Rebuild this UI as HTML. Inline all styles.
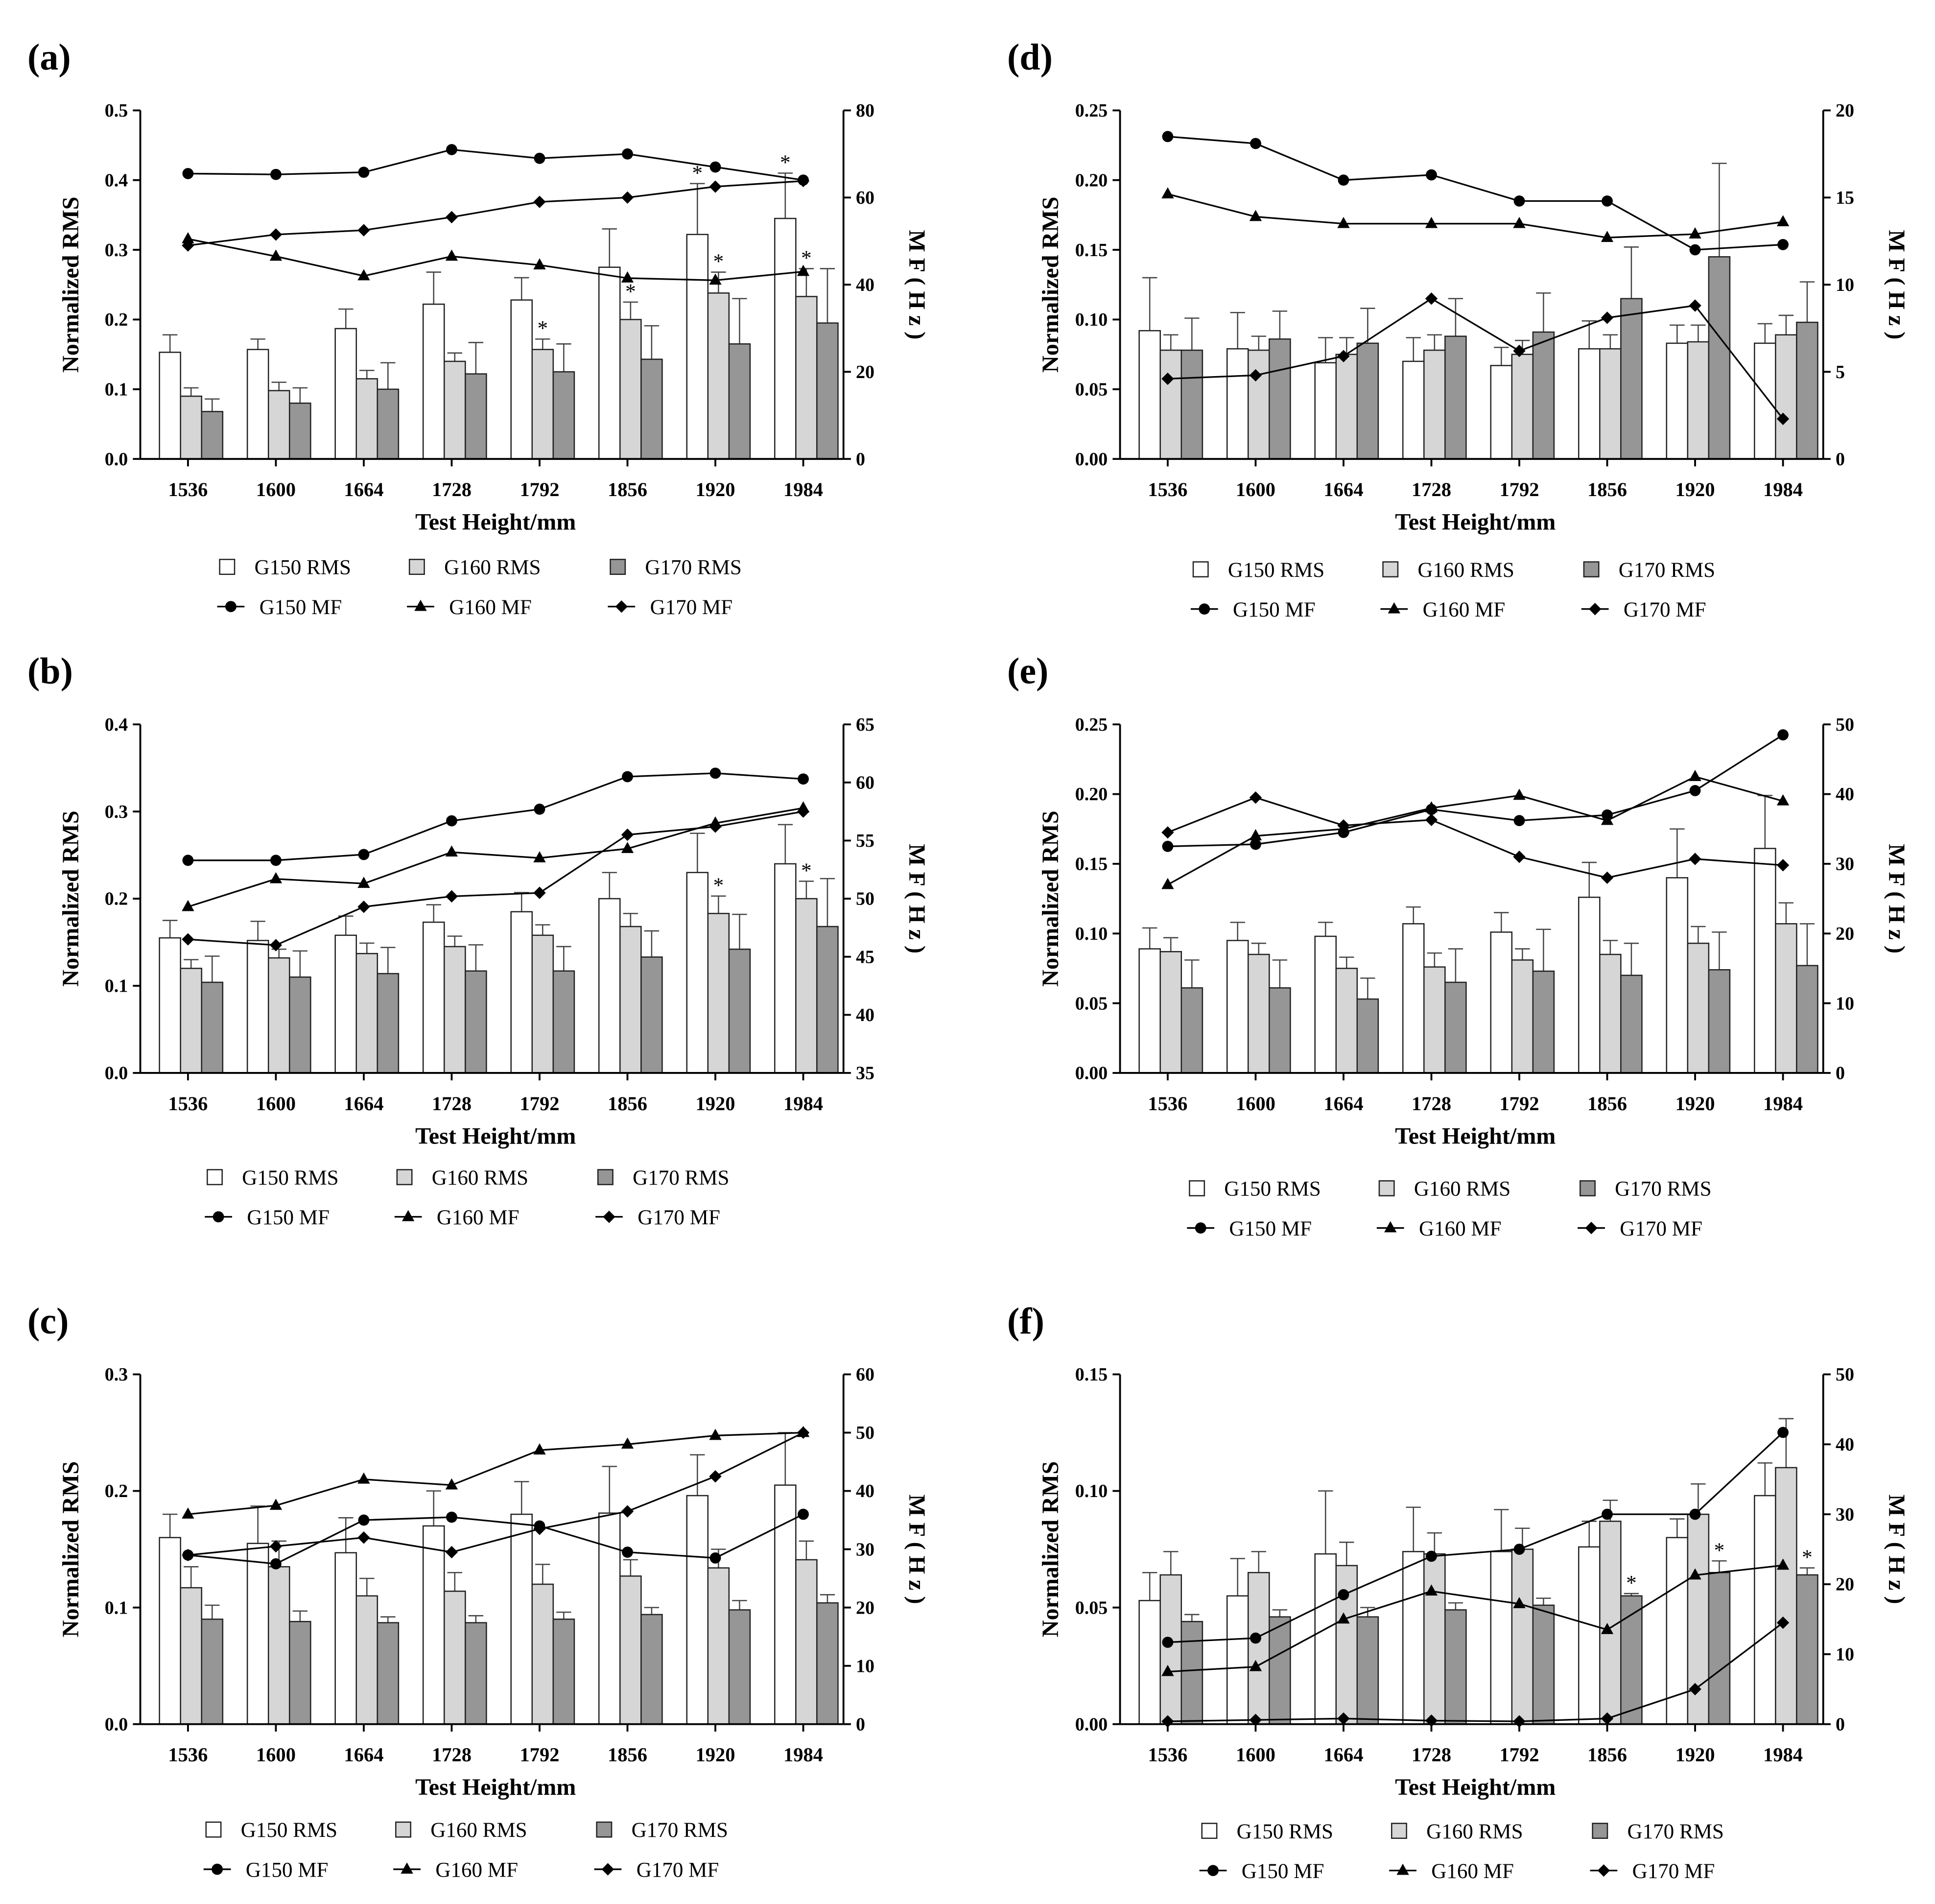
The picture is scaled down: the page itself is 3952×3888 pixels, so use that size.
<!DOCTYPE html>
<html><head><meta charset="utf-8"><style>
html,body{margin:0;padding:0;background:#fff;}
svg{display:block;font-family:"Liberation Serif",serif;}
</style></head><body>
<svg id="fig" width="3952" height="3888" viewBox="0 0 1560 1535" xmlns="http://www.w3.org/2000/svg"></svg>
<script>
const categories = ["1536","1600","1664","1728","1792","1856","1920","1984"];
// (a)
const aG150RMS=[.153,.157,.187,.222,.228,.275,.322,.345], aG150Err=[.025,.015,.028,.046,.032,.055,.073,.065];
const aG160RMS=[.09,.098,.115,.14,.157,.2,.238,.233], aG160Err=[.012,.012,.012,.012,.015,.025,.03,.04];
const aG170RMS=[.068,.08,.1,.122,.125,.143,.165,.195], aG170Err=[.018,.022,.038,.045,.04,.048,.065,.078];
const aG150MF=[65.5,65.3,65.8,71,69,70,67,64], aG160MF=[50.5,46.5,42,46.5,44.5,41.5,41,43], aG170MF=[49,51.5,52.5,55.5,59,60,62.5,63.8];
// (b)
const bG150RMS=[.155,.152,.158,.173,.185,.2,.23,.24], bG150Err=[.02,.022,.022,.02,.022,.03,.045,.045];
const bG160RMS=[.12,.132,.137,.145,.158,.168,.183,.2], bG160Err=[.01,.01,.012,.012,.012,.015,.02,.02];
const bG170RMS=[.104,.11,.114,.117,.117,.133,.142,.168], bG170Err=[.03,.03,.03,.03,.028,.03,.04,.055];
const bG150MF=[53.3,53.3,53.8,56.7,57.7,60.5,60.8,60.3], bG160MF=[49.3,51.7,51.3,54,53.5,54.3,56.5,57.8], bG170MF=[46.5,46,49.3,50.2,50.5,55.5,56.2,57.5];
// (c)
const cG150RMS=[.16,.155,.147,.17,.18,.181,.196,.205], cG150Err=[.02,.032,.03,.03,.028,.04,.035,.045];
const cG160RMS=[.117,.135,.11,.114,.12,.127,.134,.141], cG160Err=[.018,.022,.015,.016,.017,.014,.016,.016];
const cG170RMS=[.09,.088,.087,.087,.09,.094,.098,.104], cG170Err=[.012,.009,.005,.006,.006,.006,.008,.007];
const cG150MF=[29,27.5,35,35.5,34,29.5,28.5,36], cG160MF=[36,37.5,42,41,47,48,49.5,50], cG170MF=[29,30.5,32,29.5,33.5,36.5,42.5,50];
// (d)
const dG150RMS=[.092,.079,.069,.07,.067,.079,.083,.083], dG150Err=[.038,.026,.018,.017,.013,.02,.013,.014];
const dG160RMS=[.078,.078,.075,.078,.075,.079,.084,.089], dG160Err=[.011,.01,.012,.011,.01,.01,.012,.014];
const dG170RMS=[.078,.086,.083,.088,.091,.115,.145,.098], dG170Err=[.023,.02,.025,.027,.028,.037,.067,.029];
const dG150MF=[18.5,18.1,16,16.3,14.8,14.8,12,12.3], dG160MF=[15.2,13.9,13.5,13.5,13.5,12.7,12.9,13.6], dG170MF=[4.6,4.8,5.9,9.2,6.2,8.1,8.8,2.3];
// (e)
const eG150RMS=[.089,.095,.098,.107,.101,.126,.14,.161], eG150Err=[.015,.013,.01,.012,.014,.025,.035,.038];
const eG160RMS=[.087,.085,.075,.076,.081,.085,.093,.107], eG160Err=[.01,.008,.008,.01,.008,.01,.012,.015];
const eG170RMS=[.061,.061,.053,.065,.073,.07,.074,.077], eG170Err=[.02,.02,.015,.024,.03,.023,.027,.03];
const eG150MF=[32.5,32.8,34.5,37.8,36.2,37,40.5,48.5], eG160MF=[27,34,35,38,39.8,36.2,42.5,39], eG170MF=[34.5,39.5,35.5,36.3,31,28,30.7,29.8];
// (f)
const fG150RMS=[.053,.055,.073,.074,.074,.076,.08,.098], fG150Err=[.012,.016,.027,.019,.018,.011,.008,.014];
const fG160RMS=[.064,.065,.068,.073,.075,.087,.09,.11], fG160Err=[.01,.009,.01,.009,.009,.009,.013,.021];
const fG170RMS=[.044,.046,.046,.049,.051,.055,.065,.064], fG170Err=[.003,.003,.004,.003,.003,.001,.005,.003];
const fG150MF=[11.7,12.3,18.5,24,25,30,30,41.7], fG160MF=[7.5,8.2,15,19,17.2,13.5,21.3,22.7], fG170MF=[0.4,0.6,0.8,0.5,0.4,0.8,5,14.5];
// tick labels
const aLeftTicks=["0.0","0.1","0.2","0.3","0.4","0.5"], aRightTicks=["0","20","40","60","80"];
const bLeftTicks=["0.0","0.1","0.2","0.3","0.4"], bRightTicks=["35","40","45","50","55","60","65"];
const cLeftTicks=["0.0","0.1","0.2","0.3"], cRightTicks=["0","10","20","30","40","50","60"];
const dLeftTicks=["0.00","0.05","0.10","0.15","0.20","0.25"], dRightTicks=["0","5","10","15","20"];
const eLeftTicks=["0.00","0.05","0.10","0.15","0.20","0.25"], eRightTicks=["0","10","20","30","40","50"];
const fLeftTicks=["0.00","0.05","0.10","0.15"], fRightTicks=["0","10","20","30","40","50"];
// significance markers [series index, category index]
const aStars=[[1,4],[1,5],[1,6],[1,7],[0,6],[0,7]];
const bStars=[[1,6],[1,7]];
const fStars=[[2,5],[2,6],[2,7]];

const NS="http://www.w3.org/2000/svg";
const svg=document.getElementById('fig');
function el(tag,attrs,parent,text){const e=document.createElementNS(NS,tag);for(const k in attrs)e.setAttribute(k,attrs[k]);if(text!==undefined)e.textContent=text;(parent||svg).appendChild(e);return e;}

const panels=[
 {id:'a',x0:113,x1:680,yT:89,yB:370,rms:[aG150RMS,aG160RMS,aG170RMS],err:[aG150Err,aG160Err,aG170Err],mf:[aG150MF,aG160MF,aG170MF],lt:aLeftTicks,rt:aRightTicks,stars:aStars,lx:183,ly:457},
 {id:'b',x0:113,x1:680,yT:584,yB:865,rms:[bG150RMS,bG160RMS,bG170RMS],err:[bG150Err,bG160Err,bG170Err],mf:[bG150MF,bG160MF,bG170MF],lt:bLeftTicks,rt:bRightTicks,stars:bStars,lx:173,ly:949},
 {id:'c',x0:113,x1:680,yT:1108,yB:1390,rms:[cG150RMS,cG160RMS,cG170RMS],err:[cG150Err,cG160Err,cG170Err],mf:[cG150MF,cG160MF,cG170MF],lt:cLeftTicks,rt:cRightTicks,stars:[],lx:172,ly:1475},
 {id:'d',x0:903,x1:1470,yT:89,yB:370,rms:[dG150RMS,dG160RMS,dG170RMS],err:[dG150Err,dG160Err,dG170Err],mf:[dG150MF,dG160MF,dG170MF],lt:dLeftTicks,rt:dRightTicks,stars:[],lx:968,ly:459},
 {id:'e',x0:903,x1:1470,yT:584,yB:865,rms:[eG150RMS,eG160RMS,eG170RMS],err:[eG150Err,eG160Err,eG170Err],mf:[eG150MF,eG160MF,eG170MF],lt:eLeftTicks,rt:eRightTicks,stars:[],lx:965,ly:958},
 {id:'f',x0:903,x1:1470,yT:1108,yB:1390,rms:[fG150RMS,fG160RMS,fG170RMS],err:[fG150Err,fG160Err,fG170Err],mf:[fG150MF,fG160MF,fG170MF],lt:fLeftTicks,rt:fRightTicks,stars:fStars,lx:975,ly:1476}
];
const fills=['#ffffff','#d6d6d6','#969696'];
const names=['g150','g160','g170'];

function marker(g,type,x,y){
 let m;
 if(type===0)m=el('circle',{cx:x,cy:y,r:4.5,fill:'#000'},g);
 else if(type===1)m=el('polygon',{points:`${x},${y-5.5} ${x+5},${y+3.5} ${x-5},${y+3.5}`,fill:'#000'},g);
 else m=el('polygon',{points:`${x},${y-5} ${x+5},${y} ${x},${y+5} ${x-5},${y}`,fill:'#000'},g);
 return m;
}

panels.forEach(p=>{
 const g=el('g',{},svg);
 
 
 const lmin=parseFloat(p.lt[0]),lmax=parseFloat(p.lt[p.lt.length-1]);
 const rmin=parseFloat(p.rt[0]),rmax=parseFloat(p.rt[p.rt.length-1]);
 const yL=v=>p.yB-(v-lmin)/(lmax-lmin)*(p.yB-p.yT);
 const yR=v=>p.yB-(v-rmin)/(rmax-rmin)*(p.yB-p.yT);
 const step=(p.x1-p.x0)/categories.length;
 const xc=i=>p.x0+(i+0.5)*step;
 // title
 const t=el('text',{x:p.x0-91,y:p.yT-33,'font-size':30,'font-weight':'bold'},g,'('+p.id+')');
 
 // bars
 p.rms.forEach((ser,s)=>{
  ser.forEach((v,i)=>{
   const bx=xc(i)-20+s*17;
   const ex=bx+8.5, top=yL(v), et=yL(v+p.err[s][i]);
   const eb=el('line',{x1:ex,y1:top,x2:ex,y2:et,stroke:'#444','stroke-width':1},g);
   
   el('line',{x1:ex-6,y1:et,x2:ex+6,y2:et,stroke:'#444','stroke-width':1},g);
   const r=el('rect',{x:bx,y:top,width:17,height:p.yB-top,fill:fills[s],stroke:'#222','stroke-width':1},g);
   
  });
 });
 // stars
 p.stars.forEach(([s,i])=>{
  const v=p.rms[s][i]+p.err[s][i];
  const st=el('text',{x:xc(i)-20+s*17+8.5,y:yL(v)-3,'font-size':17,'text-anchor':'middle'},g,'*');
  
 });
 // lines
 p.mf.forEach((ser,s)=>{
  const pts=ser.map((v,i)=>`${xc(i)+3},${yR(v)}`).join(' ');
  const pl=el('polyline',{points:pts,fill:'none',stroke:'#000','stroke-width':1.3},g);
  
  ser.forEach((v,i)=>{const m=marker(g,s,xc(i)+3,yR(v));});
 });
 // axes
 const ax=el('g',{stroke:'#000','stroke-width':1.5},g);
 
 el('line',{x1:p.x0,y1:p.yT,x2:p.x0,y2:p.yB},ax);
 el('line',{x1:p.x1,y1:p.yT,x2:p.x1,y2:p.yB},ax);
 el('line',{x1:p.x0,y1:p.yB,x2:p.x1,y2:p.yB},ax);
 p.lt.forEach(l=>{const y=yL(parseFloat(l));el('line',{x1:p.x0-6,y1:y,x2:p.x0,y2:y},ax);
  const tt=el('text',{x:p.x0-10,y:y+5,'font-size':15,'font-weight':'bold','text-anchor':'end'},g,l);});
 p.rt.forEach(l=>{const y=yR(parseFloat(l));el('line',{x1:p.x1,y1:y,x2:p.x1+6,y2:y},ax);
  const tt=el('text',{x:p.x1+10,y:y+5,'font-size':15,'font-weight':'bold'},g,l);});
 categories.forEach((c,i)=>{el('line',{x1:xc(i)+3,y1:p.yB,x2:xc(i)+3,y2:p.yB+6},ax);
  const tt=el('text',{x:xc(i)+3,y:p.yB+30,'font-size':16,'font-weight':'bold','text-anchor':'middle'},g,c);});
 const xt=el('text',{x:(p.x0+p.x1)/2+3,y:p.yB+57,'font-size':19,'font-weight':'bold','text-anchor':'middle'},g,'Test Height/mm');
 
 const cy=(p.yT+p.yB)/2;
 const yt=el('text',{x:0,y:0,'font-size':19,'font-weight':'bold','text-anchor':'middle',transform:`translate(${p.x0-50},${cy}) rotate(-90)`},g,'Normalized RMS');
 
 const y2=el('text',{x:0,y:0,'font-size':19,'font-weight':'bold','text-anchor':'middle',transform:`translate(${p.x1+53},${cy}) rotate(90)`},g,'M F ( H z )');
 
 // legend
 const lg=el('g',{},g);
 
 const off=[0,153,315];
 names.forEach((n,s)=>{
  const lx=p.lx+off[s];
  const e1=el('g',{},lg);
  el('rect',{x:lx-6,y:p.ly-6,width:12,height:12,fill:fills[s],stroke:'#222','stroke-width':1},e1);
  el('text',{x:lx+22,y:p.ly+6,'font-size':17},e1,n.toUpperCase()+' RMS');
  const e2=el('g',{},lg);
  const ly2=p.ly+32;
  el('line',{x1:lx-8,y1:ly2,x2:lx+14,y2:ly2,stroke:'#000','stroke-width':1.3},e2);
  marker(e2,s,lx+3,ly2);
  el('text',{x:lx+26,y:ly2+6,'font-size':17},e2,n.toUpperCase()+' MF');
 });
});
</script>
</body></html>
